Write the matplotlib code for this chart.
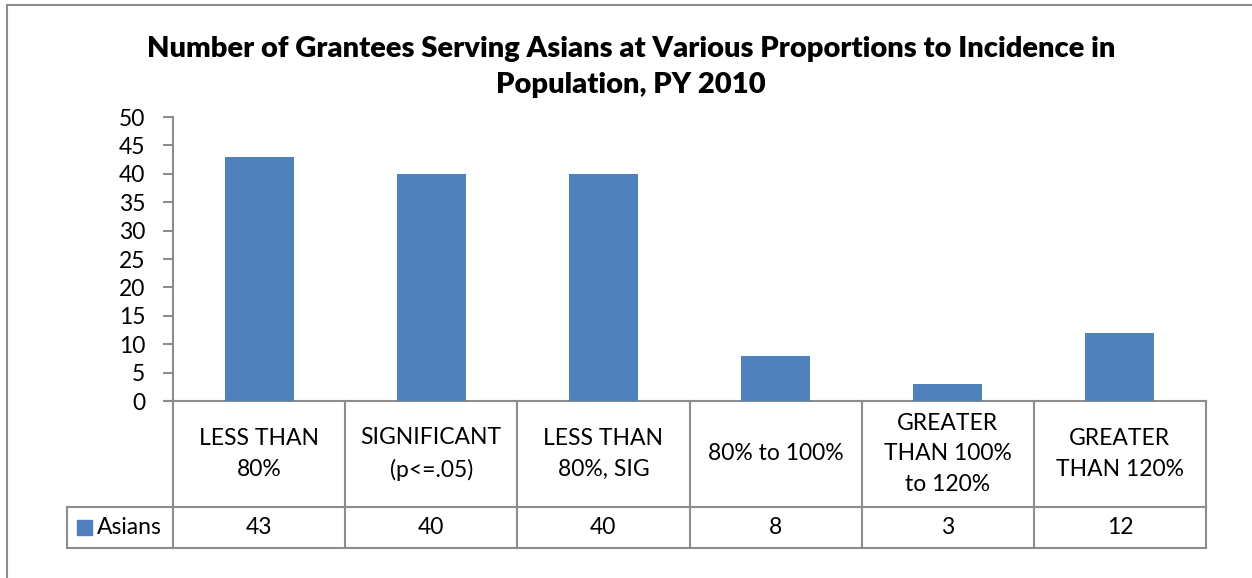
import matplotlib
matplotlib.use("Agg")
import matplotlib.pyplot as plt
from matplotlib.patches import Rectangle
from matplotlib.lines import Line2D
import matplotlib.transforms as mtransforms

categories = ["LESS THAN\n80%", "SIGNIFICANT\n(p<=.05)", "LESS THAN\n80%, SIG",
              "80% to 100%", "GREATER\nTHAN 100%\nto 120%", "GREATER\nTHAN 120%"]
asians = [43, 40, 40, 8, 3, 12]
series_name = "Asians"
yticks = [0, 5, 10, 15, 20, 25, 30, 35, 40, 45, 50]
title = "Number of Grantees Serving Asians at Various Proportions to Incidence in\nPopulation, PY 2010"

plt.rcParams['font.family'] = ['Lato', 'DejaVu Sans']

W, H = 1252, 578
fig = plt.figure(figsize=(W / 100, H / 100), dpi=100)
fig.patch.set_facecolor('white')

gray = '#8c8c8c'
blue = '#4F81BD'

# chart frame
fig.patches.append(Rectangle((7 / W, -0.1), 1.2, (H - 5) / H + 0.1, transform=fig.transFigure,
                             fill=False, edgecolor=gray, linewidth=1.5))

ax = fig.add_axes([173 / W, (H - 401) / H, (1206 - 173) / W, (401 - 117) / H])
x = list(range(len(categories)))
ax.bar(x, asians, width=0.4, color=blue, zorder=3)
ax.set_xlim(-0.5, len(categories) - 0.5)
ax.set_ylim(0, 50)
ax.set_yticks(yticks)
ax.set_xticks([])
for s in ['top', 'right', 'bottom']:
    ax.spines[s].set_visible(False)
ax.spines['left'].set_color(gray)
ax.spines['left'].set_linewidth(1.5)
ax.tick_params(axis='y', length=7, width=1.5, color=gray, labelsize=16.5, pad=13)

fig.text(631 / W, 1 - 67 / H, title, ha='center', va='center', fontsize=21,
         fontweight='heavy', linespacing=1.45)

# data table
tr = mtransforms.blended_transform_factory(ax.transData, ax.transAxes)
y_row = -(507 - 401) / 284
y_bot = -(548 - 401) / 284
n = len(categories)
lw = 1.5
ax.add_line(Line2D([-0.5 - 7 / 172.2, n - 0.5], [0, 0], transform=tr, color=gray, lw=lw, clip_on=False))
for i in range(n + 1):
    ax.add_line(Line2D([i - 0.5, i - 0.5], [0, y_bot], transform=tr, color=gray, lw=lw, clip_on=False))
xl = -0.5 - (173 - 67) / 172.2
ax.add_line(Line2D([xl, n - 0.5], [y_row, y_row], transform=tr, color=gray, lw=lw, clip_on=False))
ax.add_line(Line2D([xl, n - 0.5], [y_bot, y_bot], transform=tr, color=gray, lw=lw, clip_on=False))
ax.add_line(Line2D([xl, xl], [y_row, y_bot], transform=tr, color=gray, lw=lw, clip_on=False))

for i, (c, v) in enumerate(zip(categories, asians)):
    ax.text(i, y_row / 2, c, transform=tr, ha='center', va='center', fontsize=16.5,
            linespacing=1.55, clip_on=False)
    ax.text(i, (y_row + y_bot) / 2, str(v), transform=tr, ha='center', va='center',
            fontsize=16.5, clip_on=False)

ax.add_patch(Rectangle((-0.5 - (173 - 77) / 172.2, (y_row + y_bot) / 2 - 7.5 / 284),
                       15 / 172.2, 15 / 284, transform=tr, color=blue, clip_on=False))
ax.text(-0.5 - (173 - 97) / 172.2, (y_row + y_bot) / 2, series_name, transform=tr,
        ha='left', va='center', fontsize=16.5, clip_on=False)

fig.savefig('out.png', dpi=100, facecolor='white')
